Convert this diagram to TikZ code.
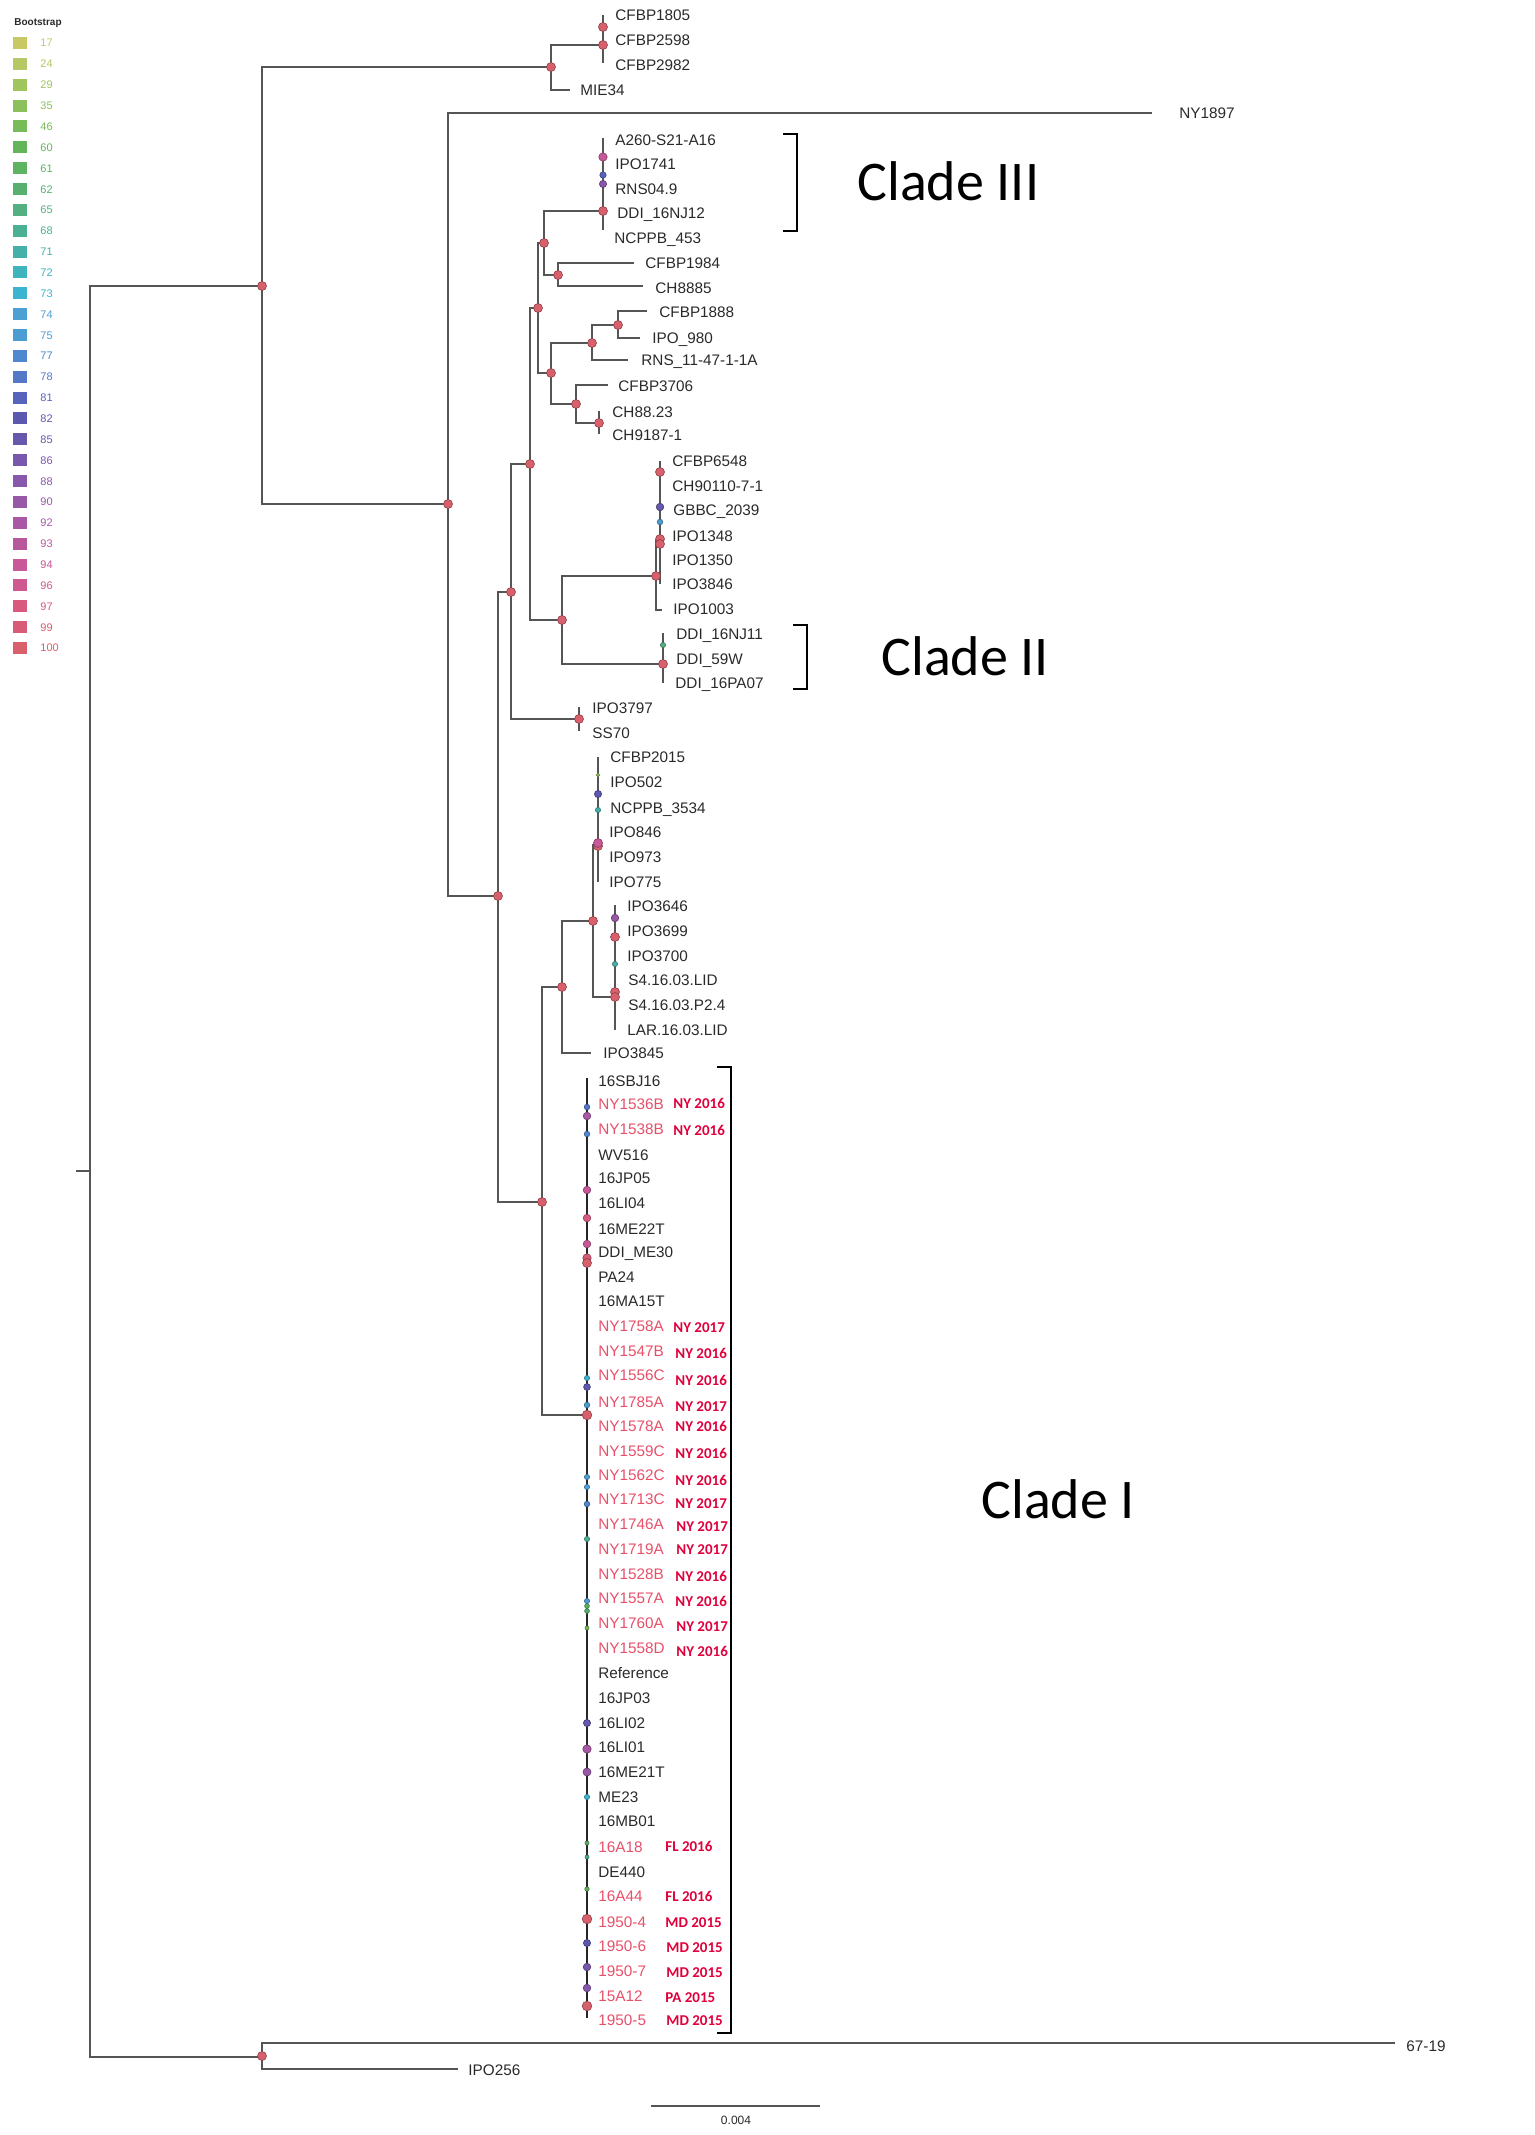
\documentclass[tikz,border=0pt]{standalone}
\usepackage{fontspec}
\setmainfont{Liberation Sans}
\newfontfamily\carlito{Carlito}
\definecolor{treegray}{HTML}{555555}
\definecolor{labgray}{HTML}{2A2A2A}
\definecolor{strainred}{HTML}{E8506A}
\definecolor{yearred}{HTML}{E0003C}
\definecolor{b17}{HTML}{C8C864}
\definecolor{b24}{HTML}{B4C864}
\definecolor{b29}{HTML}{A0C45E}
\definecolor{b35}{HTML}{8CC05C}
\definecolor{b46}{HTML}{78BC5A}
\definecolor{b60}{HTML}{64B45A}
\definecolor{b61}{HTML}{5CB462}
\definecolor{b62}{HTML}{58B070}
\definecolor{b65}{HTML}{54B080}
\definecolor{b68}{HTML}{4CB094}
\definecolor{b71}{HTML}{44B0A8}
\definecolor{b72}{HTML}{40B4BC}
\definecolor{b73}{HTML}{3CB4D0}
\definecolor{b74}{HTML}{4CA0D4}
\definecolor{b75}{HTML}{4C9CD4}
\definecolor{b77}{HTML}{5088D0}
\definecolor{b78}{HTML}{5478C8}
\definecolor{b81}{HTML}{5864BC}
\definecolor{b82}{HTML}{5C58B0}
\definecolor{b85}{HTML}{6858AC}
\definecolor{b86}{HTML}{7858AC}
\definecolor{b88}{HTML}{8858AC}
\definecolor{b90}{HTML}{9858A8}
\definecolor{b92}{HTML}{A858A4}
\definecolor{b93}{HTML}{B8589C}
\definecolor{b94}{HTML}{C85898}
\definecolor{b96}{HTML}{D05890}
\definecolor{b97}{HTML}{D85880}
\definecolor{b99}{HTML}{D85C78}
\definecolor{b100}{HTML}{D8606C}
\newcommand\bdot[4]{\filldraw[fill=#3, draw=#3!65!black, line width=0.3pt] (#1,#2) circle[radius=#4];}
\begin{document}
\begin{tikzpicture}[x=0.5pt,y=-0.5pt,
  br/.style={line width=0.7pt, draw=treegray},
  lab/.style={anchor=west, inner sep=0pt, font=\fontsize{7.65}{9}\selectfont, text=labgray, text height=5.5pt, text depth=0pt},
  redlab/.style={lab, text=strainred},
  yr/.style={anchor=west, inner sep=0pt, font=\carlito\bfseries\fontsize{7.5}{9}\selectfont, text=yearred, text height=4.8pt, text depth=0pt},
  clade/.style={anchor=west, inner sep=0pt, font=\carlito\fontsize{28}{32}\selectfont, text=black, text height=18pt, text depth=0pt},
  leg/.style={anchor=west, inner sep=0pt, font=\fontsize{5.5}{6}\selectfont, text height=4pt, text depth=0pt},
  brk/.style={line width=1pt, draw=black},
]
\fill[white] (0,0) rectangle (1535,2135);
\useasboundingbox (0,0) rectangle (1535,2135);

% ---------- legend ----------
\node[anchor=west, inner sep=0pt, font=\bfseries\fontsize{5}{6}\selectfont, text=labgray] (legtitle) at (14,23) {Bootstrap};
\foreach \v [count=\i from 0] in {17,24,29,35,46,60,61,62,65,68,71,72,73,74,75,77,78,81,82,85,86,88,90,92,93,94,96,97,99,100}{
  \fill[b\v] (13,{43+20.86*\i-6}) rectangle ++(14,12);
  \node[leg, text=b\v] (leg\i) at (40,{43+20.86*\i}) {\v};
}

% ---------- coordinates ----------
\coordinate (rstub) at (76,1171);
\coordinate (r) at (90,1171);
\coordinate (n1) at (262,286);
\coordinate (n2) at (262,2057);
\coordinate (nA) at (551,67);
\coordinate (nAc) at (603,45);
\coordinate (n3) at (448,504);
\coordinate (n4) at (498,896);
\coordinate (n5) at (511,592);
\coordinate (n6) at (530,464);
\coordinate (n7) at (538,308);
\coordinate (n8) at (544,243);
\coordinate (n9) at (603,211);
\coordinate (n10) at (558,275);
\coordinate (n11) at (551,373);
\coordinate (n12) at (592,343);
\coordinate (n13) at (618,325);
\coordinate (n14) at (576,404);
\coordinate (n15) at (599,423);
\coordinate (n16) at (562,620);
\coordinate (n17) at (656,576);
\coordinate (n18) at (660,541);
\coordinate (n19) at (663,664);
\coordinate (n20) at (579,719);
\coordinate (n21) at (542,1202);
\coordinate (n22) at (562,987);
\coordinate (n23) at (593,921);
\coordinate (n24) at (598,845);
\coordinate (n25) at (615,997);
\coordinate (n26) at (587,1415);
% tips
\coordinate (t-mie34) at (570,90);
\coordinate (t-ny1897) at (1152,113);
\coordinate (t-cfbp1984) at (634,263);
\coordinate (t-ch8885) at (643,286);
\coordinate (t-cfbp1888) at (647,311);
\coordinate (t-ipo980) at (640,338);
\coordinate (t-rns11) at (628,360);
\coordinate (t-cfbp3706) at (608,385);
\coordinate (t-ipo1003) at (662,610);
\coordinate (t-ipo3845) at (591,1053);
\coordinate (t-6719) at (1395,2043);
\coordinate (t-ipo256) at (458,2069);

% ---------- branches ----------
\draw[br] (rstub) -- (r);
\draw[br] (n1) -| (r) |- (n2);
\draw[br] (t-6719) -| (n2) |- (t-ipo256);
\draw[br] (nA) -| (n1) |- (n3);
\draw[br] (nAc) -| (nA) |- (t-mie34);
\draw[br] (603,15) -- (603,63);
\draw[br] (t-ny1897) -| (n3) |- (n4);
\draw[br] (n5) -| (n4) |- (n21);
\draw[br] (n6) -| (n5) |- (n20);
\draw[br] (n7) -| (n6) |- (n16);
\draw[br] (n8) -| (n7) |- (n11);
\draw[br] (n9) -| (n8) |- (n10);
\draw[br] (603,138) -- (603,230);
\draw[br] (t-cfbp1984) -| (n10) |- (t-ch8885);
\draw[br] (n12) -| (n11) |- (n14);
\draw[br] (n13) -| (n12) |- (t-rns11);
\draw[br] (t-cfbp1888) -| (n13) |- (t-ipo980);
\draw[br] (t-cfbp3706) -| (n14) |- (n15);
\draw[br] (599,411) -- (599,434);
\draw[br] (n17) -| (n16) |- (n19);
\draw[br] (n18) -| (n17) |- (t-ipo1003);
\draw[br] (660,461) -- (660,584);
\draw[br] (663,633) -- (663,683);
\draw[br] (579,707) -- (579,731);
\draw[br] (n22) -| (n21) |- (n26);
\draw[br] (n23) -| (n22) |- (t-ipo3845);
\draw[br] (n24) -| (n23) |- (n25);
\draw[br] (598,757) -- (598,882);
\draw[br] (615,905) -- (615,1030);
\draw[br, draw=black!85] (587,1078) -- (587,2018);

% ---------- bootstrap circles ----------
\bdot{603}{27}{b100}{4.5}
\bdot{603}{45}{b100}{4.5}
\bdot{551}{67}{b100}{4.5}
\bdot{262}{286}{b100}{4.5}
\bdot{448}{504}{b100}{4.5}
\bdot{603}{157}{b94}{4.2}
\bdot{603}{175}{b81}{3.2}
\bdot{603}{184}{b88}{3.6}
\bdot{603}{211}{b100}{4.5}
\bdot{544}{243}{b100}{4.5}
\bdot{558}{275}{b100}{4.5}
\bdot{538}{308}{b100}{4.5}
\bdot{618}{325}{b100}{4.5}
\bdot{592}{343}{b100}{4.5}
\bdot{551}{373}{b100}{4.5}
\bdot{576}{404}{b100}{4.5}
\bdot{599}{423}{b100}{4.5}
\bdot{530}{464}{b100}{4.5}
\bdot{660}{472}{b100}{4.5}
\bdot{660}{507}{b85}{3.8}
\bdot{660}{522}{b75}{2.8}
\bdot{660}{539}{b100}{4.5}
\bdot{660}{544}{b100}{4.5}
\bdot{656}{576}{b100}{4.5}
\bdot{511}{592}{b100}{4.5}
\bdot{562}{620}{b100}{4.5}
\bdot{663}{645}{b65}{2.6}
\bdot{663}{664}{b100}{4.5}
\bdot{579}{719}{b100}{4.5}
\bdot{598}{775}{b35}{1.8}
\bdot{598}{794}{b82}{3.6}
\bdot{598}{810}{b71}{2.6}
\bdot{598}{846}{b100}{4.5}
\bdot{598}{843}{b94}{4.5}
\bdot{498}{896}{b100}{4.5}
\bdot{615}{918}{b90}{3.8}
\bdot{593}{921}{b100}{4.5}
\bdot{615}{937}{b100}{4.5}
\bdot{615}{964}{b71}{2.6}
\bdot{562}{987}{b100}{4.5}
\bdot{615}{992}{b100}{4.5}
\bdot{615}{997}{b100}{4.5}
\bdot{542}{1202}{b100}{4.5}
\bdot{262}{2056}{b100}{4.5}
% clade I cluster
\bdot{587}{1107}{b78}{2.8}
\bdot{587}{1116}{b92}{3.8}
\bdot{587}{1134}{b77}{2.8}
\bdot{587}{1190}{b94}{3.8}
\bdot{587}{1218}{b97}{3.8}
\bdot{587}{1244}{b94}{3.8}
\bdot{587}{1258}{b99}{4.2}
\bdot{587}{1263}{b100}{4.5}
\bdot{587}{1378}{b73}{2.6}
\bdot{587}{1387}{b82}{3.4}
\bdot{587}{1405}{b75}{2.8}
\bdot{587}{1415}{b100}{4.8}
\bdot{587}{1477}{b74}{2.6}
\bdot{587}{1487}{b74}{2.6}
\bdot{587}{1504}{b77}{2.8}
\bdot{587}{1539}{b68}{2.6}
\bdot{587}{1601}{b75}{2.6}
\bdot{587}{1606}{b61}{2.4}
\bdot{587}{1611}{b62}{2.4}
\bdot{587}{1628}{b46}{2.0}
\bdot{587}{1723}{b85}{3.6}
\bdot{587}{1749}{b92}{4.2}
\bdot{587}{1772}{b90}{4.0}
\bdot{587}{1797}{b73}{2.6}
\bdot{587}{1843}{b61}{2.0}
\bdot{587}{1857}{b68}{2.0}
\bdot{587}{1889}{b60}{2.2}
\bdot{587}{1919}{b100}{4.8}
\bdot{587}{1943}{b82}{3.6}
\bdot{587}{1967}{b86}{3.8}
\bdot{587}{1988}{b88}{3.8}
\bdot{587}{2006}{b100}{4.8}

% ---------- leaf labels ----------
\foreach \x/\y/\t [count=\i] in {
 615/15/CFBP1805, 615/40/CFBP2598, 615/65/CFBP2982, 580/90/MIE34, 1179/113/NY1897,
 615/140/A260-S21-A16, 615/164/IPO1741, 615/189/RNS04.9, 617/213/DDI\_16NJ12, 614/238/NCPPB\_453,
 645/263/CFBP1984, 655/288/CH8885, 659/312/CFBP1888, 652/338/IPO\_980, 641/360/RNS\_11-47-1-1A,
 618/386/CFBP3706, 612/412/CH88.23, 612/435/CH9187-1,
 672/461/CFBP6548, 672/486/CH90110-7-1, 673/510/GBBC\_2039, 672/536/IPO1348, 672/560/IPO1350,
 672/584/IPO3846, 673/609/IPO1003, 676/634/DDI\_16NJ11, 676/659/DDI\_59W, 675/683/DDI\_16PA07,
 592/708/IPO3797, 592/733/SS70,
 610/757/CFBP2015, 610/782/IPO502, 610/808/NCPPB\_3534, 609/832/IPO846, 609/857/IPO973, 609/882/IPO775,
 627/906/IPO3646, 627/931/IPO3699, 627/956/IPO3700, 628/980/S4.16.03.LID, 628/1005/S4.16.03.P2.4, 627/1030/LAR.16.03.LID,
 603/1053/IPO3845, 1406/2046/67-19, 468/2070/IPO256}
 {\node[lab] (leaf\i) at (\x,\y) {\t};}

\foreach \y/\t/\s [count=\i] in {
 1081/16SBJ16/lab, 1104/NY1536B/redlab, 1129/NY1538B/redlab, 1155/WV516/lab, 1178/16JP05/lab,
 1203/16LI04/lab, 1229/16ME22T/lab, 1252/DDI\_ME30/lab, 1277/PA24/lab, 1301/16MA15T/lab,
 1326/NY1758A/redlab, 1351/NY1547B/redlab, 1375/NY1556C/redlab, 1402/NY1785A/redlab, 1426/NY1578A/redlab,
 1451/NY1559C/redlab, 1475/NY1562C/redlab, 1499/NY1713C/redlab, 1524/NY1746A/redlab, 1549/NY1719A/redlab,
 1574/NY1528B/redlab, 1598/NY1557A/redlab, 1623/NY1760A/redlab, 1648/NY1558D/redlab, 1673/Reference/lab,
 1698/16JP03/lab, 1723/16LI02/lab, 1747/16LI01/lab, 1772/16ME21T/lab, 1797/ME23/lab, 1821/16MB01/lab,
 1847/16A18/redlab, 1872/DE440/lab, 1896/16A44/redlab, 1922/1950-4/redlab, 1946/1950-6/redlab,
 1971/1950-7/redlab, 1996/15A12/redlab, 2020/1950-5/redlab}
 {\node[\s] (cI\i) at (598,\y) {\t};}

% ---------- year labels ----------
\foreach \x/\y/\t [count=\i] in {
 673/1104/NY 2016, 673/1131/NY 2016, 673/1328/NY 2017, 675/1354/NY 2016, 675/1381/NY 2016,
 675/1407/NY 2017, 675/1427/NY 2016, 675/1454/NY 2016, 675/1481/NY 2016, 675/1504/NY 2017,
 676/1527/NY 2017, 676/1550/NY 2017, 675/1577/NY 2016, 675/1602/NY 2016, 676/1627/NY 2017,
 676/1652/NY 2016, 665/1847/FL 2016, 665/1897/FL 2016, 665/1923/MD 2015, 666/1948/MD 2015,
 666/1973/MD 2015, 665/1998/PA 2015, 666/2021/MD 2015}
 {\node[yr] (yr\i) at (\x,\y) {\t};}

% ---------- clade brackets and names ----------
\draw[brk] (783,134) -- (797,134) -- (797,231) -- (783,231);
\draw[brk] (793,625) -- (807,625) -- (807,689) -- (793,689);
\draw[brk] (717,1067) -- (731,1067) -- (731,2033) -- (717,2033);
\node[clade] (cladeIII) at (857,183) {Clade III};
\node[clade] (cladeII) at (881,657) {Clade II};
\node[clade] (cladeI) at (981,1500) {Clade I};

% ---------- scale bar ----------
\coordinate (sbl) at (651,2106);
\coordinate (sbr) at (820,2106);
\draw[line width=0.8pt, draw=treegray] (sbl) -- (sbr);
\node[anchor=center, inner sep=0pt, font=\fontsize{6}{7}\selectfont, text=labgray] (sblab) at (736,2120) {0.004};
\end{tikzpicture}
\end{document}
